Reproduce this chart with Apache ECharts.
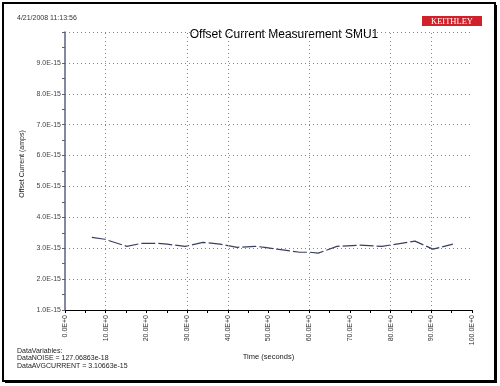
<!DOCTYPE html>
<html><head><meta charset="utf-8">
<script src="https://cdn.jsdelivr.net/npm/echarts@6/dist/echarts.min.js"></script>
<style>html,body{margin:0;padding:0;background:#fff}#c{width:500px;height:386px}</style>
</head><body><div id="c"></div>
<script>
const titleText = 'Offset Current Measurement SMU1';
const timeStamp = '4/21/2008 11:13:56';
const xAxisName = 'Time (seconds)';
const yAxisName = 'Offset Current (amps)';
const infoLines = ['DataVariables:', 'DataNOISE = 127.06863e-18', 'DataAVGCURRENT = 3.10663e-15'];
const timeSec = [6.6, 9.8, 15.2, 18.9, 22.6, 25.1, 29.5, 33.9, 38.1, 42.3, 46.7, 49.1, 52.1, 57.7, 60.2, 62.2, 66.8, 72.5, 77.9, 86.0, 90.4, 95.3];
const currentE15 = [3.35, 3.29, 3.06, 3.16, 3.16, 3.13, 3.06, 3.19, 3.13, 3.03, 3.06, 3.03, 2.97, 2.87, 2.87, 2.84, 3.06, 3.10, 3.06, 3.23, 2.97, 3.13];
const vGridTimes = [10, 30, 40, 60, 80, 90];

const chart = echarts.init(document.getElementById('c'), null, {renderer: 'canvas'});
const data = timeSec.map((t, i) => [t, currentE15[i] * 1e-15]);
const font = 'Liberation Sans, Arial, sans-serif';
chart.setOption({
  animation: false,
  backgroundColor: '#fff',
  grid: {left: 65, right: 28, top: 32, bottom: 76, containLabel: false},
  xAxis: {
    type: 'value', min: 0, max: 100, interval: 10,
    name: xAxisName, nameLocation: 'middle', nameGap: 42,
    nameTextStyle: {fontFamily: font, fontSize: 7.5, color: '#222'},
    axisLine: {lineStyle: {color: '#000', width: 1.2}},
    axisTick: {show: true, inside: false, length: 3, lineStyle: {color: '#000'}},
    minorTick: {show: true, splitNumber: 2, length: 3, lineStyle: {color: '#000'}},
    axisLabel: {rotate: 90, fontFamily: font, fontSize: 7, color: '#333', margin: 5,
      formatter: v => v.toFixed(1) + 'E+0'},
    splitLine: {show: false}
  },
  yAxis: {
    type: 'value', min: 1e-15, max: 10e-15, interval: 1e-15,
    name: yAxisName, nameLocation: 'middle', nameGap: 31,
    nameTextStyle: {fontFamily: font, fontSize: 7, color: '#222', padding: [0, 0, 0, 14]},
    axisLine: {show: true, lineStyle: {color: '#5b6080', width: 1.5}},
    axisTick: {show: true, length: 3, lineStyle: {color: '#5b6080'}},
    minorTick: {show: true, splitNumber: 2, length: 3, lineStyle: {color: '#5b6080'}},
    axisLabel: {fontFamily: font, fontSize: 7, color: '#444', margin: 4,
      formatter: v => { const m = Math.round(v * 1e16) / 10; return m >= 10 ? '' : m.toFixed(1) + 'E-15'; }},
    splitLine: {show: true, lineStyle: {color: '#888', type: [1, 3], width: 1}}
  },
  series: [{
    type: 'line', data: data, symbol: 'none', smooth: false,
    lineStyle: {color: '#3a3f60', width: 1.2, type: [14, 3]},
    markLine: {
      silent: true, symbol: 'none', label: {show: false},
      lineStyle: {color: '#888', type: [1, 3], width: 1},
      data: vGridTimes.map(t => ({xAxis: t}))
    }
  }],
  graphic: [
    {type: 'rect', shape: {x: 5, y: 5, width: 492, height: 378}, style: {fill: '#000'}, z: -2},
    {type: 'rect', shape: {x: 3, y: 3, width: 492, height: 378}, style: {fill: '#fff', stroke: '#000', lineWidth: 2}, z: -1},
    {type: 'text', left: 17, top: 15, style: {text: timeStamp, fontFamily: font, fontSize: 7, fill: '#333'}},
    {type: 'text', x: 284, y: 35, style: {text: titleText, fontFamily: font, fontSize: 12, fill: '#000', textAlign: 'center', textVerticalAlign: 'middle'}},
    {type: 'rect', shape: {x: 422, y: 16, width: 60, height: 10}, style: {fill: '#d0202a'}},
    {type: 'text', x: 452, y: 21.5, style: {text: 'KEITHLEY', fontFamily: 'Liberation Serif, serif', fontSize: 8.5, fill: '#fff', textAlign: 'center', textVerticalAlign: 'middle', letterSpacing: 1}},
    {type: 'text', left: 17, top: 347, style: {text: infoLines.join('\n'), fontFamily: font, fontSize: 7, lineHeight: 7.6, fill: '#222'}}
  ]
});
</script></body></html>
